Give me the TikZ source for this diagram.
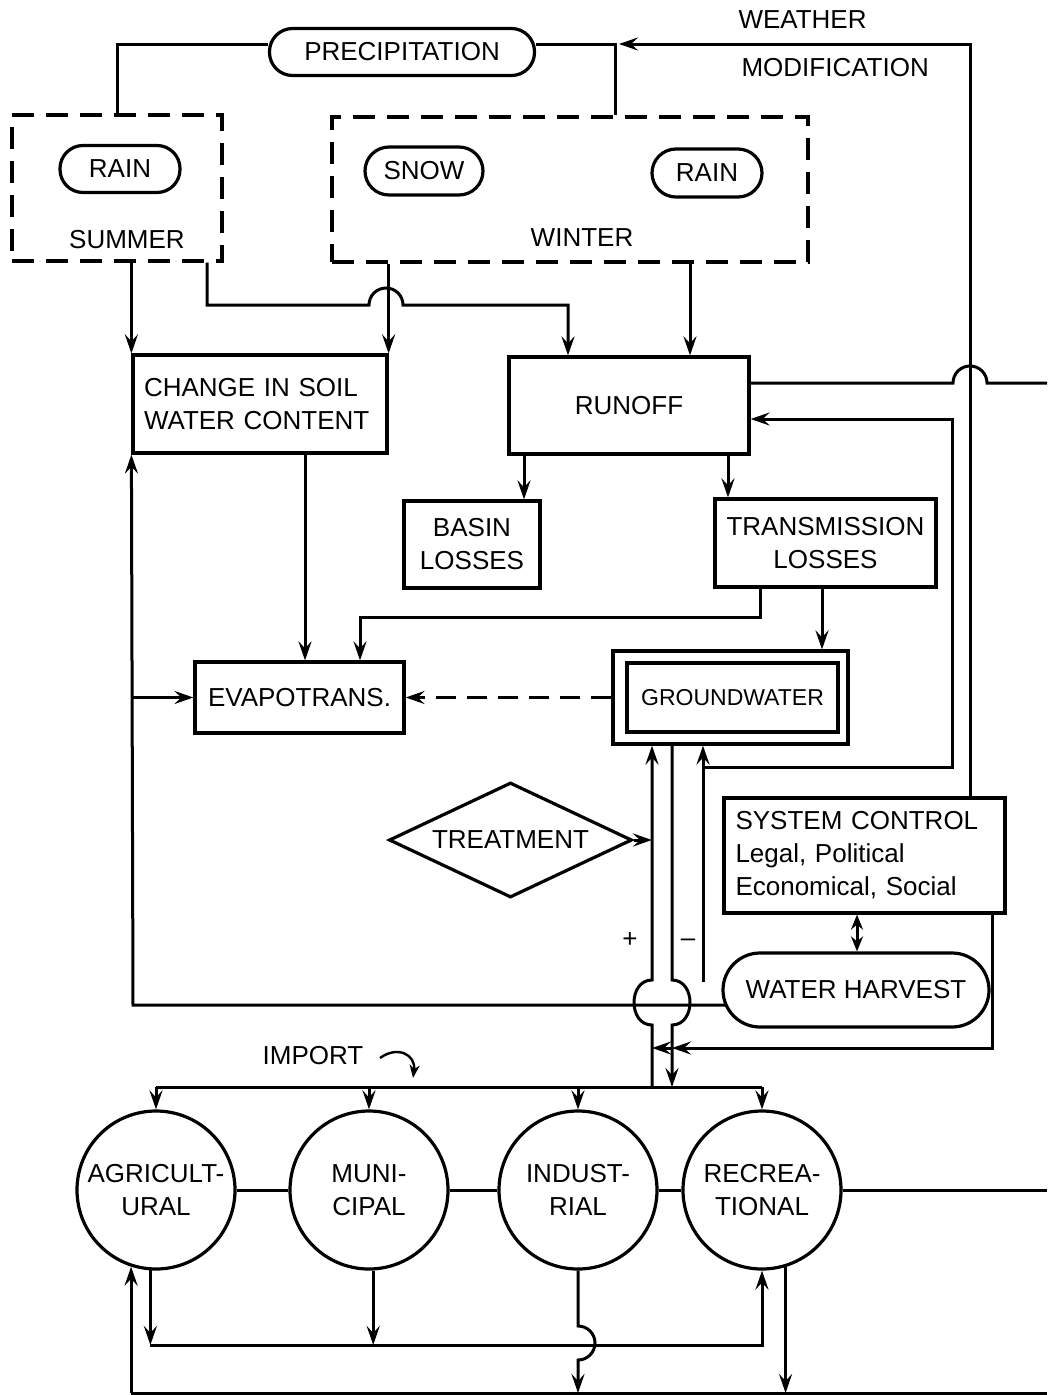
\documentclass[tikz,border=0pt]{standalone}
\usepackage{fontspec}
\setmainfont{Liberation Sans}
\usetikzlibrary{arrows.meta,shapes.geometric}
\begin{document}
\begin{tikzpicture}[x=1pt,y=-1pt,line width=3pt,
  every node/.style={font=\fontsize{26}{33}\selectfont, inner sep=0pt},
  box/.style={draw, line width=3.2pt, rectangle},
  pill/.style={draw, line width=3.2pt, rectangle, rounded corners=#1},
  dashbox/.style={draw, line width=3.4pt, dash pattern=on 22pt off 12pt},
  ring/.style={draw, circle, line width=3.2pt, minimum size=158pt, align=center},
  arr/.style={-{Stealth[length=19pt,width=13pt,inset=7pt]}},
  dbl/.style={{Stealth[length=15pt,width=12pt,inset=5pt]}-{Stealth[length=15pt,width=12pt,inset=5pt]}},
  dashline/.style={dash pattern=on 20pt off 11pt}
]
\fill[white] (0,0) rectangle (1047,1395);
\useasboundingbox (0,0) rectangle (1047,1395);

% ---------- nodes ----------
\node[pill=23pt, minimum width=265pt, minimum height=47pt] (prec) at (402,52) {PRECIPITATION};
\node[anchor=west] (weather) at (737,20) {WEATHER};
\node[anchor=west] (modif) at (740,68) {MODIFICATION};

\node[dashbox, minimum width=210pt, minimum height=146pt] (summerbox) at (117,188) {};
\node[pill=23pt, minimum width=120pt, minimum height=47pt] (rainS) at (120,169) {RAIN};
\node (summertxt) at (127,240) {SUMMER};

\node[dashbox, minimum width=476pt, minimum height=145pt] (winterbox) at (570,189.5) {};
\node[pill=24pt, minimum width=118pt, minimum height=48pt] (snow) at (424,171) {SNOW};
\node[pill=24pt, minimum width=110pt, minimum height=48pt] (rainW) at (707,173) {RAIN};
\node (wintertxt) at (582,238) {WINTER};

\node[box, minimum width=254pt, minimum height=98pt, text width=232pt, align=left] (soil) at (260,404) {CHANGE IN SOIL\\WATER CONTENT};
\node[box, minimum width=240pt, minimum height=97pt] (runoff) at (629,405.5) {RUNOFF};
\node[box, minimum width=136pt, minimum height=87pt, align=center] (basin) at (472,544.5) {BASIN\\LOSSES};
\node[box, minimum width=221pt, minimum height=88pt, align=center] (trans) at (825.5,543) {TRANSMISSION\\LOSSES};
\node[box, minimum width=209pt, minimum height=71pt] (evap) at (299.5,697.5) {EVAPOTRANS.};
\node[box, minimum width=235pt, minimum height=93pt] (gw) at (730.5,697.5) {};
\node[box, minimum width=211pt, minimum height=69pt, font=\fontsize{23}{28}\selectfont] (gwin) at (732.5,697.5) {GROUNDWATER};

\node[draw, diamond, line width=3.2pt, aspect=2.1, minimum width=243pt, minimum height=115pt] (treat) at (510.5,840) {TREATMENT};
\node[box, minimum width=281pt, minimum height=115pt, text width=258pt, align=left] (sysctl) at (864.5,855.5) {SYSTEM CONTROL\\Legal, Political\\Economical, Social};
\node[pill=37pt, minimum width=266pt, minimum height=74pt] (wh) at (856,990) {WATER HARVEST};

\node (plus) at (630,940) {+};
\node (minus) at (688,943) {–};
\node (import) at (313,1056) {IMPORT};

\node[ring] (agr) at (156,1190) {AGRICULT-\\URAL};
\node[ring] (mun) at (369,1190) {MUNI-\\CIPAL};
\node[ring] (ind) at (578,1190) {INDUST-\\RIAL};
\node[ring] (rec) at (762,1190) {RECREA-\\TIONAL};

% ---------- coordinates ----------
\coordinate (wmtop) at (970,44);
\coordinate (jprec) at (615,44);
\coordinate (whl) at (726,1005);
\coordinate (loopL) at (133,1005);
\coordinate (r703) at (703,982);
\coordinate (b703) at (703,767);
\coordinate (busL) at (156,1087);
\coordinate (busR) at (762,1087);
\coordinate (midY) at (0,1345);
\coordinate (botY) at (0,1393);
\coordinate (edgeR) at (1047,0);

% ---------- connectors: top ----------
\draw (prec.west |- jprec) -| (summerbox.north);
\draw (prec.east |- jprec) -- (jprec) -- (jprec |- winterbox.north);
\draw[arr] (sysctl.north -| wmtop) -- (wmtop) -- ([xshift=4pt]jprec);

\draw[arr] (summerbox.south -| soil.north west) -- (soil.north west);
\draw[arr] (summerbox.south -| 207,0) -- (207,305) -- (369,305)
   arc[start angle=180, end angle=0, radius=17pt] -- (568,305) -- (runoff.north -| 568,0);
\draw[arr] (winterbox.south -| soil.north east) -- (soil.north east);
\draw[arr] (winterbox.south -| 690,0) -- (runoff.north -| 690,0);

% ---------- middle ----------
\draw[arr] (runoff.south -| 524,0) -- (basin.north -| 524,0);
\draw[arr] (runoff.south -| 728,0) -- (trans.north -| 728,0);
\draw[arr] (trans.south -| 760,0) |- (360,617) -- (evap.north -| 360,0);
\draw[arr] (soil.south -| 305,0) -- (evap.north -| 305,0);
\draw[arr] (trans.south -| 822,0) -- (gw.north -| 822,0);
\draw[arr, dashline] (gw.west) -- (evap.east);

\draw ([yshift=22.5pt]runoff.east) -- (953,383)
   arc[start angle=180, end angle=0, radius=17pt] -- (edgeR |- 0,383);

\draw[arr] (r703) -- (gw.south -| r703);
\draw[arr] (b703) -| (952,419) -- (runoff.east |- 952,419);

% pipes
\draw[arr] (652,1087) -- (652,1025) .. controls (628,1025) and (628,980) .. (652,980) -- (gw.south -| 652,0);
\draw[arr] (gw.south -| 672,0) -- (672,980) .. controls (696,980) and (696,1025) .. (672,1025) -- (672,1087);
\draw[arr] (treat.east) -- (treat.east -| 652,0);

\draw[arr] (sysctl.south -| 992,0) |- (672,1048);
\draw[arr] (672,1048) -- (652,1048);
\draw[dbl] (sysctl.south -| 857,0) -- (wh.north -| 857,0);

\draw[arr] (whl) -- (loopL) -- (soil.south west);
\draw[arr] (evap.west -| loopL) -- (evap.west);

% ---------- bottom ----------
\draw[-{Stealth[length=13pt,width=10pt,inset=4pt]}, line width=2.4pt] (380,1058) .. controls (398,1045) and (416,1055) .. (413,1078);
\draw (busL) -- (busR);
\draw[arr] (agr.north |- busL) -- (agr.north);
\draw[arr] (mun.north |- busL) -- (mun.north);
\draw[arr] (ind.north |- busL) -- (ind.north);
\draw[arr] (rec.north |- busL) -- (rec.north);

\draw (agr) -- (mun);
\draw (mun) -- (ind);
\draw (ind) -- (rec);
\draw (rec.east) -- (edgeR |- rec.east);

\draw[arr] (agr.-108 |- botY) -- (agr.-108);
\draw[arr] (agr.-94) -- (agr.-94 |- midY);
\draw[arr] (agr.-94 |- midY) -- (rec.south |- midY) -- (rec.south);
\draw[arr] (mun.-87) -- (mun.-87 |- midY);
\draw[arr] (ind.south) -- (578,1326) arc[start angle=90, end angle=-90, radius=17pt] -- (ind.south |- botY);
\draw[arr] (rec.-73) -- (rec.-73 |- botY);
\draw (agr.-108 |- botY) -- (edgeR |- botY);
\end{tikzpicture}
\end{document}
